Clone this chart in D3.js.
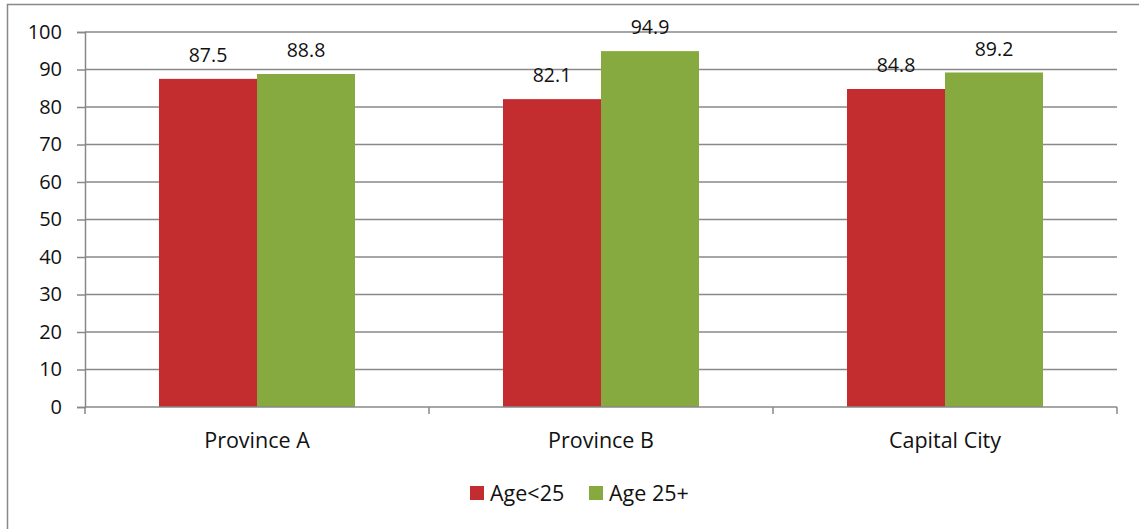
<!DOCTYPE html>
<html>
<head>
<meta charset="utf-8">
<script src="https://cdn.jsdelivr.net/npm/d3@7"></script>
<style>
  body { margin: 0; background: #fff; }
  text { font-family: "Open Sans", "Liberation Sans", sans-serif; fill: #111; }
</style>
</head>
<body>
<svg id="chart" width="1139" height="529"></svg>
<script>
var categories = ["Province A", "Province B", "Capital City"];
var seriesNames = ["Age<25", "Age 25+"];
var under25 = [87.5, 82.1, 84.8];
var over25 = [88.8, 94.9, 89.2];
var yTicks = [0, 10, 20, 30, 40, 50, 60, 70, 80, 90, 100];
var colors = ["#C32D2F", "#86AA3F"];

var svg = d3.select("#chart");

// outer frame (cut off at right and bottom like the original)
svg.append("rect")
    .attr("x", 7.5).attr("y", 4.5)
    .attr("width", 1200).attr("height", 600)
    .attr("fill", "none")
    .attr("stroke", "#888")
    .attr("stroke-width", 1.5);

var pLeft = 85, pRight = 1117, pTop = 32, pBottom = 407;

var x = d3.scaleBand().domain(categories).range([pLeft, pRight]);
var x1 = d3.scaleBand().domain(seriesNames)
    .range([0, x.bandwidth()]).paddingOuter(0.755);
var y = d3.scaleLinear().domain([0, 100]).range([pBottom, pTop]);

// gridlines
svg.append("g").selectAll("line")
    .data(yTicks.slice(1))
    .join("line")
    .attr("x1", pLeft).attr("x2", pRight)
    .attr("y1", d => y(d)).attr("y2", d => y(d))
    .attr("stroke", "#888").attr("stroke-width", 1.5);

// y axis
var yAxis = svg.append("g")
    .attr("transform", "translate(" + pLeft + ",0)")
    .call(d3.axisLeft(y).tickValues(yTicks).tickSize(8).tickPadding(15));
yAxis.select(".domain").attr("stroke", "#888").attr("stroke-width", 1.5);
yAxis.selectAll(".tick line").attr("stroke", "#888").attr("stroke-width", 1.5);
yAxis.selectAll("text").attr("font-size", 20).style("fill", "#111")
    .attr("font-family", "'Open Sans', sans-serif");

// bars
var data = categories.map(function (c, i) {
    return { cat: c, vals: [under25[i], over25[i]] };
});

var groups = svg.append("g").selectAll("g")
    .data(data)
    .join("g")
    .attr("transform", d => "translate(" + x(d.cat) + ",0)");

groups.selectAll("rect")
    .data(d => d.vals.map((v, j) => ({ name: seriesNames[j], v: v, j: j })))
    .join("rect")
    .attr("x", d => x1(d.name))
    .attr("width", x1.bandwidth())
    .attr("y", d => y(d.v))
    .attr("height", d => pBottom - y(d.v))
    .attr("fill", d => colors[d.j]);

groups.selectAll("text")
    .data(d => d.vals.map((v, j) => ({ name: seriesNames[j], v: v })))
    .join("text")
    .attr("x", d => x1(d.name) + x1.bandwidth() / 2)
    .attr("y", d => y(d.v) - 17)
    .attr("text-anchor", "middle")
    .attr("font-size", 19.5)
    .text(d => d.v.toFixed(1));

// x axis
var xAxisG = svg.append("g");
xAxisG.append("line")
    .attr("x1", pLeft).attr("x2", pRight)
    .attr("y1", pBottom).attr("y2", pBottom)
    .attr("stroke", "#888").attr("stroke-width", 1.5);
xAxisG.selectAll("line.tk")
    .data(categories.concat(["end"]))
    .join("line")
    .attr("class", "tk")
    .attr("x1", (d, i) => pLeft + i * x.bandwidth())
    .attr("x2", (d, i) => pLeft + i * x.bandwidth())
    .attr("y1", pBottom).attr("y2", pBottom + 7)
    .attr("stroke", "#888").attr("stroke-width", 1.5);
xAxisG.selectAll("text")
    .data(categories)
    .join("text")
    .attr("x", d => x(d) + x.bandwidth() / 2)
    .attr("y", 448)
    .attr("text-anchor", "middle")
    .attr("font-size", 21.5)
    .text(d => d);

// legend
var legend = svg.append("g");
var legendX = [470, 589];
seriesNames.forEach(function (name, i) {
    legend.append("rect")
        .attr("x", legendX[i]).attr("y", 486)
        .attr("width", 14).attr("height", 14)
        .attr("fill", colors[i]);
    legend.append("text")
        .attr("x", legendX[i] + 20).attr("y", 501)
        .attr("font-size", 21.5)
        .text(name);
});
</script>
</body>
</html>
